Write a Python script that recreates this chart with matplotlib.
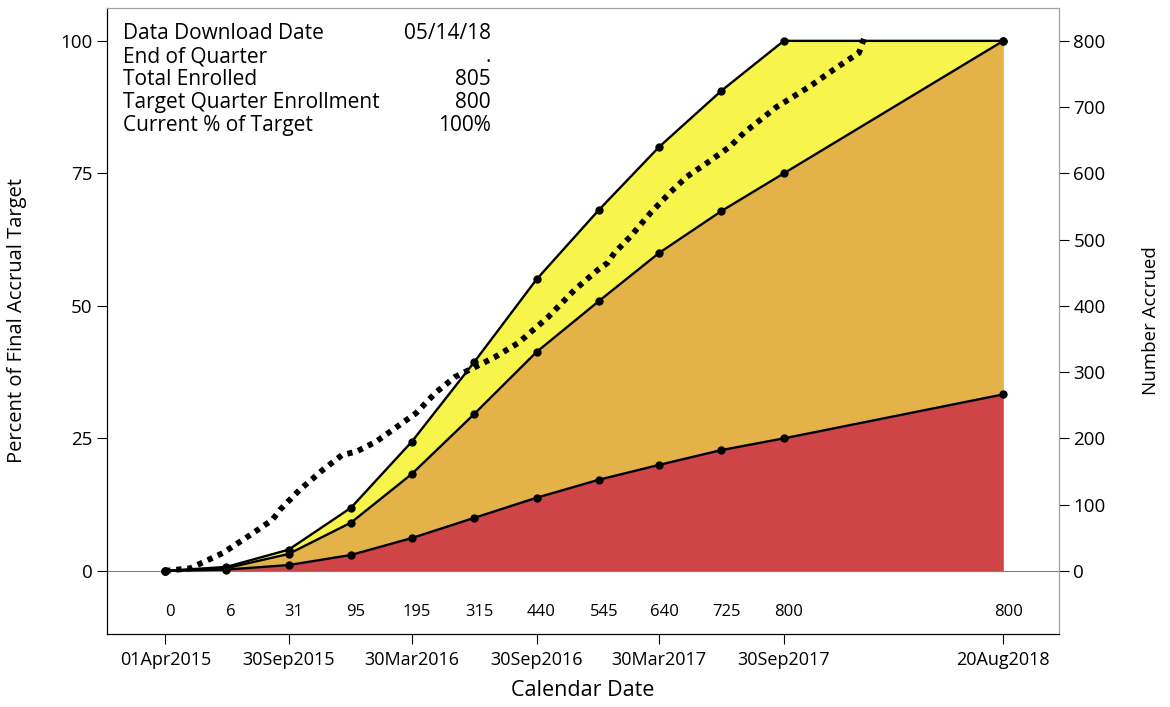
import matplotlib.pyplot as plt
import matplotlib.dates as mdates
import matplotlib.transforms as mtransforms
import pandas as pd

plt.rcParams['font.family'] = ['Open Sans', 'DejaVu Sans']
plt.rcParams['font.size'] = 13

# quarterly projection points
quarter_dates = pd.to_datetime(['2015-04-01', '2015-06-30', '2015-09-30', '2015-12-31',
                                '2016-03-30', '2016-06-30', '2016-09-30', '2016-12-31',
                                '2017-03-30', '2017-06-30', '2017-09-30', '2018-08-20'])
low_pct = [0, 0.25, 1.1, 3.0, 6.2, 10.0, 13.8, 17.2, 20.0, 22.8, 25.0, 33.3]
mid_pct = [0, 0.5, 3.2, 9.1, 18.3, 29.6, 41.3, 50.9, 60.0, 67.9, 75.0, 100]
high_pct = [0, 0.75, 4.0, 11.9, 24.4, 39.4, 55.0, 68.1, 80.0, 90.6, 100, 100]
quarter_counts = ['0', '6', '31', '95', '195', '315', '440', '545', '640', '725', '800', '800']

# actual accrual (dotted line, right axis)
actual_dates = pd.to_datetime(['2015-04-01', '2015-05-08', '2015-06-25', '2015-08-04', '2015-09-06',
                               '2015-09-17', '2015-10-16', '2015-11-19', '2015-12-18', '2016-01-08',
                               '2016-02-06', '2016-03-06', '2016-04-05', '2016-05-04', '2016-06-02',
                               '2016-07-02', '2016-07-31', '2016-09-03', '2016-10-17', '2016-11-25',
                               '2016-12-29', '2017-01-13', '2017-01-23', '2017-02-15', '2017-03-17',
                               '2017-04-15', '2017-05-10', '2017-06-09', '2017-07-12', '2017-08-02',
                               '2017-09-19', '2017-11-07', '2017-12-16', '2018-01-19', '2018-01-27'])
actual_counts = [0, 4, 27, 54, 77, 92, 122, 152, 175, 180, 195, 216, 238, 269, 293, 308, 323,
                 344, 383, 424, 454, 465, 480, 504, 540, 571, 595, 616, 640, 661, 700, 731,
                 759, 782, 805]

tick_dates = pd.to_datetime(['2015-04-01', '2015-09-30', '2016-03-30', '2016-09-30',
                             '2017-03-30', '2017-09-30', '2018-08-20'])

info_labels = ['Data Download Date', 'End of Quarter', 'Total Enrolled',
               'Target Quarter Enrollment', 'Current % of Target']
info_values = ['05/14/18', '.', '805', '800', '100%']

yellow = '#F7F54C'
orange = '#E3B349'
red = '#CF4446'

fig = plt.figure(figsize=(11.7, 7.07), dpi=100)
ax = fig.add_axes([0.0915, 0.1033, 0.8135, 0.8854])

ax.fill_between(quarter_dates, mid_pct, high_pct, color=yellow, lw=0)
ax.fill_between(quarter_dates, low_pct, mid_pct, color=orange, lw=0)
ax.fill_between(quarter_dates, 0, low_pct, color=red, lw=0)
ax.axhline(0, color='#808080', lw=0.8)
for vals in (low_pct, mid_pct, high_pct):
    ax.plot(quarter_dates, vals, color='black', lw=1.7, marker='o', markersize=5)

ax.set_ylim(-11.9, 106.2)
ax.set_xlim(pd.Timestamp('2015-01-05'), pd.Timestamp('2018-11-10'))
ax.set_yticks([0, 25, 50, 75, 100])
ax.set_xticks(tick_dates)
ax.xaxis.set_major_formatter(mdates.DateFormatter('%d%b%Y'))
ax.tick_params(axis='both', length=7, labelsize=13.5)
ax.tick_params(axis='x', labelsize=13, pad=5)
ax.set_xlabel('Calendar Date', fontsize=15.5, labelpad=8)
ax.set_ylabel('Percent of Final Accrual Target', fontsize=14.5, labelpad=24)

# enrolment counts under each quarter, nudged a few px right like the original
shift = mtransforms.offset_copy(ax.transData, fig=fig, x=5, y=0, units='dots')
for d, c in zip(quarter_dates, quarter_counts):
    ax.text(d, -7.7, c, ha='center', va='center', fontsize=12, transform=shift)

ax2 = ax.twinx()
ax2.plot(actual_dates, actual_counts, color='black', lw=4.2,
         linestyle=(0, (0.9, 1.0)))
ax2.set_ylim(-11.9 * 8, 106.2 * 8)
ax2.set_yticks(range(0, 801, 100))
ax2.tick_params(axis='y', length=7, labelsize=13.5)
ax2.set_ylabel('Number Accrued', fontsize=13.5, labelpad=26)

for a in (ax, ax2):
    a.spines['left'].set_color('black')
    a.spines['bottom'].set_color('black')
    a.spines['top'].set_color('#A0A0A0')
    a.spines['right'].set_color('#A0A0A0')

for i, (lab, val) in enumerate(zip(info_labels, info_values)):
    y = 1 - (39 + i * 23) / 707
    fig.text(123 / 1170, y, lab, ha='left', va='baseline', fontsize=15)
    fig.text(491 / 1170, y, val, ha='right', va='baseline', fontsize=15)

fig.savefig('out.png', dpi=100)
